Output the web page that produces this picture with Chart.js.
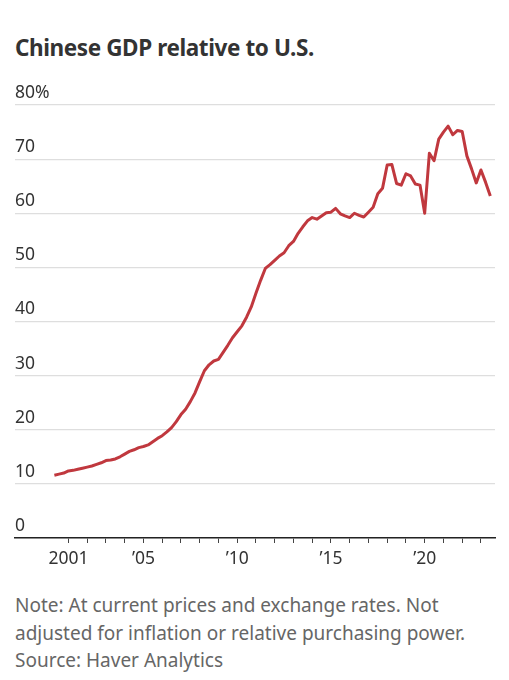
<!DOCTYPE html>
<html>
<head>
<meta charset="utf-8">
<script src="https://cdn.jsdelivr.net/npm/chart.js@4"></script>
<style>
  body { margin: 0; background: #fff; font-family: "Noto Sans", sans-serif; }
  #title { position: absolute; left: 15px; top: 33px; margin: 0; font-size: 22.5px; line-height: 30px; font-weight: 700; color: #333; letter-spacing: -0.4px; }
  #wrap { position: absolute; left: 0; top: 70px; width: 509px; height: 506px; }
  #note { position: absolute; left: 15px; top: 592px; width: 470px; font-size: 19px; line-height: 27.5px; color: #666; }
</style>
</head>
<body>
<h1 id="title">Chinese GDP relative to U.S.</h1>
<div id="wrap"><canvas id="chartGdp"></canvas></div>
<div id="note">Note: At current prices and exchange rates. Not<br>adjusted for inflation or relative purchasing power.<br>Source: Haver Analytics</div>
<script>
// quarterly series, 2000 Q2 through 2023 Q3
const firstQuarter = [2000, 2];
const gdpRatio = [
  11.6, 11.8, 12.0,
  12.4, 12.5, 12.7, 12.9,
  13.1, 13.3, 13.6, 13.9,
  14.3, 14.4, 14.6, 15.0,
  15.5, 16.0, 16.3, 16.7,
  16.9, 17.2, 17.8, 18.4,
  18.9, 19.6, 20.4, 21.5,
  22.8, 23.8, 25.2, 26.8,
  28.9, 30.9, 32.0, 32.7,
  33.0, 34.3, 35.6, 37.0,
  38.1, 39.2, 40.8, 42.7,
  45.2, 47.6, 49.8, 50.5,
  51.3, 52.1, 52.7, 54.0,
  54.8, 56.3, 57.5, 58.6,
  59.2, 58.9, 59.5, 60.1,
  60.2, 60.9, 59.9, 59.5,
  59.2, 60.0, 59.6, 59.3,
  60.2, 61.1, 63.6, 64.6,
  68.9, 69.0, 65.5, 65.2,
  67.3, 66.9, 65.4, 65.2,
  60.0, 71.1, 69.7, 73.7,
  75.0, 76.1, 74.5, 75.3,
  75.1, 70.6, 68.2, 65.6,
  68.0, 65.7, 63.2
];
const yearTicks = [2001, 2002, 2003, 2004, 2005, 2006, 2007, 2008, 2009, 2010, 2011, 2012,
  2013, 2014, 2015, 2016, 2017, 2018, 2019, 2020, 2021, 2022, 2023];
const yearLabels = { 2001: '2001', 2005: '\u201905', 2010: '\u201910', 2015: '\u201915', 2020: '\u201920' };
const yTicks = [0, 10, 20, 30, 40, 50, 60, 70, 80];

// quarter -> fractional year (Q1 sits on the year tick)
const points = gdpRatio.map((v, i) => ({
  x: firstQuarter[0] + (firstQuarter[1] - 1 + i) / 4,
  y: v
}));

new Chart(document.getElementById('chartGdp'), {
  type: 'line',
  data: {
    datasets: [{
      data: points,
      borderColor: '#c0383e',
      borderWidth: 3,
      borderJoinStyle: 'round',
      pointRadius: 0,
      tension: 0,
      fill: false
    }]
  },
  options: {
    responsive: true,
    maintainAspectRatio: false,
    animation: false,
    layout: { padding: { left: 15, right: 14, top: 35, bottom: 0 } },
    plugins: { legend: { display: false }, tooltip: { enabled: false } },
    scales: {
      x: {
        type: 'linear',
        min: 1998.15,
        max: 2023.75,
        afterBuildTicks: (axis) => { axis.ticks = yearTicks.map(v => ({ value: v })); },
        grid: { drawOnChartArea: false, drawTicks: true, tickLength: 5, tickColor: '#444' },
        border: { display: true, color: '#222', width: 1.5 },
        ticks: {
          autoSkip: false,
          maxRotation: 0,
          padding: 6,
          color: '#333',
          font: { family: 'Noto Sans', size: 17.5 },
          callback: (v) => yearLabels[v] || ''
        }
      },
      y: {
        min: 0,
        max: 80,
        afterBuildTicks: (axis) => { axis.ticks = yTicks.map(v => ({ value: v })); },
        grid: { color: '#dedede', lineWidth: 1.2, drawTicks: false },
        border: { display: false },
        ticks: {
          mirror: true,
          padding: 0,
          labelOffset: -12,
          color: '#333',
          font: { family: 'Noto Sans', size: 17.5 },
          callback: (v) => v === 80 ? '80%' : String(v)
        }
      }
    }
  }
});
</script>
</body>
</html>
